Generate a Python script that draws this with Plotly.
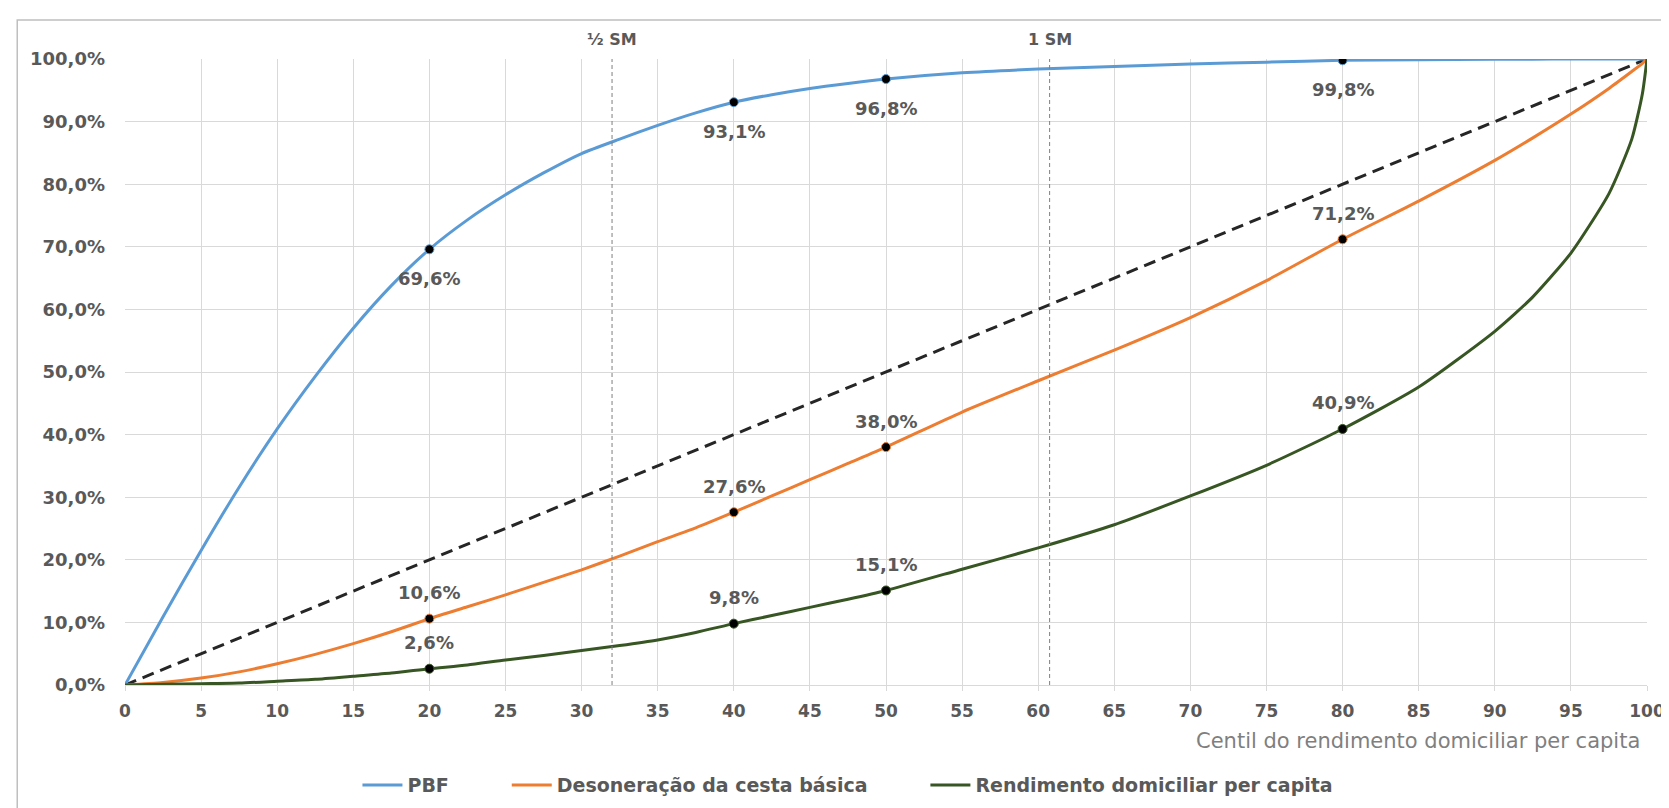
import plotly.graph_objects as go

# ---------------- data ----------------
centis = [0, 2.5, 5, 7.5, 10, 12.5, 15, 17.5, 20, 22.5, 25, 27.5, 30, 32.5, 35, 37.5,
          40, 42.5, 45, 47.5, 50, 55, 60, 65, 70, 75, 80, 85, 90, 92.5, 95, 97.5, 99, 99.7, 100]

pbf = [0, 10.9, 21.5, 31.6, 40.9, 49.3, 57.0, 63.8, 69.6, 74.3, 78.3, 81.8, 84.9, 87.2, 89.4, 91.4,
       93.1, 94.3, 95.3, 96.1, 96.8, 97.8, 98.4, 98.8, 99.2, 99.5, 99.8, 99.9, 99.95, 99.97, 100, 100, 100, 100, 100]

cesta = [0, 0.4, 1.1, 2.1, 3.4, 4.9, 6.6, 8.5, 10.6, 12.5, 14.4, 16.4, 18.4, 20.6, 22.9, 25.1,
         27.6, 30.2, 32.8, 35.4, 38.0, 43.6, 48.6, 53.5, 58.7, 64.6, 71.2, 77.3, 83.8, 87.4, 91.2, 95.3, 98.0, 99.3, 100]

renda = [0, 0.1, 0.2, 0.3, 0.6, 0.9, 1.4, 1.9, 2.6, 3.2, 4.0, 4.7, 5.5, 6.3, 7.2, 8.4,
         9.8, 11.1, 12.4, 13.7, 15.1, 18.5, 21.9, 25.6, 30.2, 35.1, 40.9, 47.6, 56.5, 62.0, 69.0, 78.5, 87.2, 94.5, 100]

equality = [0, 100]
equality_x = [0, 100]

series_names = ["PBF", "Desoneração da cesta básica", "Rendimento domiciliar per capita"]
series_colors = ["#5B9BD5", "#ED7D31", "#375623"]

marked_centis = [20, 40, 50, 80]
pbf_marks = [69.6, 93.1, 96.8, 99.8]
cesta_marks = [10.6, 27.6, 38.0, 71.2]
renda_marks = [2.6, 9.8, 15.1, 40.9]

sm_positions = [32.0, 60.75]
sm_labels = ["½ SM", "1 SM"]

x_title = "Centil do rendimento domiciliar per capita"

# ---------------- figure ----------------
FONT = "DejaVu Sans"
GRAY = "#595959"
PAD = "\u00a0" * 8  # spacing between legend entries

fig = go.Figure()

# perfect equality diagonal
fig.add_trace(go.Scatter(x=equality_x, y=equality, mode="lines",
                         line=dict(color="#262626", width=3, dash="12px,7px"),
                         showlegend=False, hoverinfo="skip"))

for i, (name, vals, col) in enumerate(zip(series_names, [pbf, cesta, renda], series_colors)):
    label = name + (PAD if i < len(series_names) - 1 else "")
    fig.add_trace(go.Scatter(x=centis, y=vals, mode="lines", name=label,
                             line=dict(color=col, width=3, shape="spline", smoothing=0.6)))

annotations = []
for vals, col, shift in [(pbf_marks, series_colors[0], -29),
                         (cesta_marks, series_colors[1], 26),
                         (renda_marks, series_colors[2], 26)]:
    fig.add_trace(go.Scatter(x=marked_centis, y=vals, mode="markers",
                             marker=dict(color="black", size=9, line=dict(color=col, width=1)),
                             showlegend=False, hoverinfo="skip"))
    for xv, yv in zip(marked_centis, vals):
        annotations.append(dict(x=xv, y=yv, xref="x", yref="y",
                                text=f"{yv:.1f}%".replace(".", ","),
                                showarrow=False, yshift=shift,
                                font=dict(family=FONT, size=18, color=GRAY, weight="bold")))

shapes = []
for xv, lab in zip(sm_positions, sm_labels):
    shapes.append(dict(type="line", xref="x", yref="paper", x0=xv, x1=xv, y0=0, y1=1,
                       line=dict(color="#7F7F7F", width=1, dash="4px,3px")))
    annotations.append(dict(x=xv, y=1, xref="x", yref="paper", text=lab, showarrow=False,
                            yanchor="middle", yshift=20,
                            font=dict(family=FONT, size=16, color=GRAY, weight="bold")))

# outer chart border
shapes.append(dict(type="rect", xref="paper", yref="paper",
                   x0=-0.0708, x1=1.2, y0=-0.4, y1=1.0623,
                   line=dict(color="#BFBFBF", width=1.5), fillcolor="rgba(0,0,0,0)", layer="below"))

annotations.append(dict(x=0.9967, y=-0.09, xref="paper", yref="paper", text=x_title,
                        showarrow=False, xanchor="right", yanchor="middle",
                        font=dict(family=FONT, size=21, color="#7F7F7F")))

fig.update_layout(
    width=1669, height=808,
    margin=dict(l=117, r=26, t=51, b=131),
    paper_bgcolor="white", plot_bgcolor="white",
    separators=",.",
    font=dict(family=FONT, color=GRAY),
    showlegend=True,
    legend=dict(orientation="h", x=0.475, xanchor="center", y=-0.16, yanchor="middle",
                font=dict(family=FONT, size=19, color=GRAY, weight="bold"),
                itemwidth=40, tracegroupgap=0),
    shapes=shapes,
    annotations=annotations,
)

fig.update_xaxes(range=[0, 100], tickmode="linear", tick0=0, dtick=5,
                 showgrid=True, gridcolor="#D9D9D9", gridwidth=1,
                 showline=True, linecolor="#D9D9D9", linewidth=1,
                 ticks="outside", ticklen=5, tickcolor="#D9D9D9",
                 ticklabelstandoff=6,
                 tickfont=dict(family=FONT, size=17, color=GRAY, weight="bold"),
                 zeroline=False, fixedrange=True)

fig.update_yaxes(range=[0, 100], tickmode="linear", tick0=0, dtick=10,
                 tickformat=".1f", ticksuffix="%",
                 showgrid=True, gridcolor="#D9D9D9", gridwidth=1,
                 showline=False, ticks="", ticklabelstandoff=19,
                 tickfont=dict(family=FONT, size=18, color=GRAY, weight="bold"),
                 zeroline=False, fixedrange=True)

fig.write_html("out.html")
